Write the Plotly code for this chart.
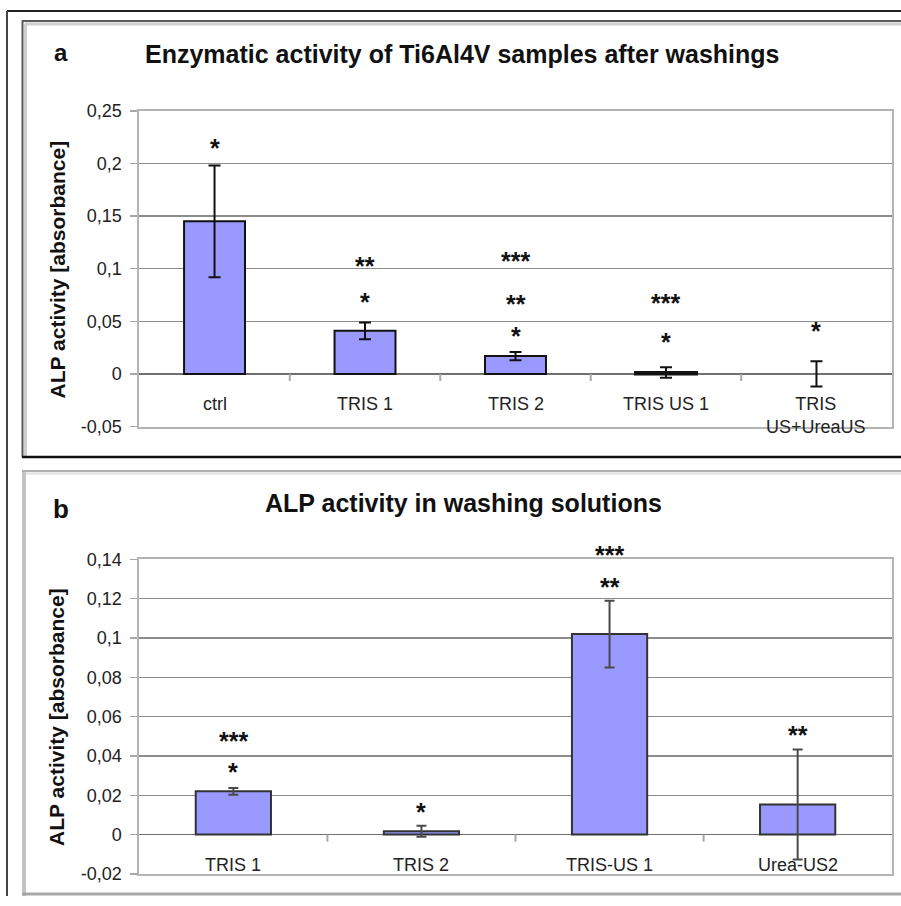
import plotly.graph_objects as go

W, H = 901, 906

# ---------------- data ----------------
cats_a = ["ctrl", "TRIS 1", "TRIS 2", "TRIS US 1", "TRIS<br>US+UreaUS"]
vals_a = [0.145, 0.041, 0.017, 0.0015, 0.0]
err_a = [0.053, 0.008, 0.004, 0.005, 0.012]
star_cat_a = ["ctrl", "TRIS 1", "TRIS 1", "TRIS 2", "TRIS 2", "TRIS 2", "TRIS US 1", "TRIS US 1", "TRIS<br>US+UreaUS"]
star_txt_a = ["*", "**", "*", "***", "**", "*", "***", "*", "*"]
star_y_a = [0.22, 0.108, 0.074, 0.113, 0.072, 0.042, 0.073, 0.0365, 0.047]
ytick_vals_a = [-0.05, 0, 0.05, 0.1, 0.15, 0.2, 0.25]
ytick_text_a = ["-0,05", "0", "0,05", "0,1", "0,15", "0,2", "0,25"]

cats_b = ["TRIS 1", "TRIS 2", "TRIS-US 1", "Urea-US2"]
vals_b = [0.022, 0.0017, 0.102, 0.0153]
err_b = [0.0017, 0.0028, 0.017, 0.028]
star_cat_b = ["TRIS 1", "TRIS 1", "TRIS 2", "TRIS-US 1", "TRIS-US 1", "Urea-US2"]
star_txt_b = ["***", "*", "*", "***", "**", "**"]
star_y_b = [0.0505, 0.0348, 0.0148, 0.145, 0.129, 0.0536]
ytick_vals_b = [-0.02, 0, 0.02, 0.04, 0.06, 0.08, 0.1, 0.12, 0.14]
ytick_text_b = ["-0,02", "0", "0,02", "0,04", "0,06", "0,08", "0,1", "0,12", "0,14"]

title_a = "Enzymatic activity of Ti6Al4V samples after washings"
title_b = "ALP activity in washing solutions"
ytitle = "ALP activity [absorbance]"

FONT = "Liberation Sans, Arial, sans-serif"
BAR = "#9999ff"

# pixel geometry of the two plot areas (as seen in the reference picture)
PLOT_L, PLOT_R = 139.3, 891.7
A_TOP, A_BOT = 112, 426.7
B_TOP, B_BOT = 559, 872.5
RANGE_A = [-0.05, 0.25]
RANGE_B = [-0.02, 0.14]

# the photographed page shows the figure vertically as 11.5 + 0.9746*y
Y_OFF, Y_SC = 11.5, 0.9746


def fy(y):
    return (y - Y_OFF) / Y_SC


def px(x):
    return x / W


def py(y):
    return min(1.0, max(0.0, 1 - fy(y) / H))


fig = go.Figure()

fig.add_trace(go.Bar(
    x=cats_a, y=vals_a, xaxis="x", yaxis="y", width=0.405,
    marker=dict(color=BAR, line=dict(color="#111111", width=[2, 2, 2, 3, 0])),
    error_y=dict(type="data", array=err_a, visible=True, color="#111111", thickness=2, width=6),
    showlegend=False,
))
fig.add_trace(go.Bar(
    x=cats_b, y=vals_b, xaxis="x2", yaxis="y2", width=0.4,
    marker=dict(color=BAR, line=dict(color="#333333", width=2)),
    error_y=dict(type="data", array=err_b, visible=True, color="#4a4a4a", thickness=2, width=5),
    showlegend=False,
))

common_x = dict(type="category", showticklabels=False, ticks="", showgrid=False,
                showline=True, mirror=True, linecolor="#b4b4b4", linewidth=2, zeroline=False,
                fixedrange=True)
common_y = dict(tickmode="array", ticks="outside", ticklen=7, tickcolor="#a8a8a8", tickwidth=1.5,
                showgrid=True, gridcolor="#8c8c8c", gridwidth=1.5,
                zeroline=True, zerolinecolor="#707070", zerolinewidth=1.5,
                showline=True, mirror=True, linecolor="#b4b4b4", linewidth=2, fixedrange=True,
                tickfont=dict(family=FONT, size=18, color="#222222"), ticklabelstandoff=5)

fig.update_layout(
    width=W, height=H, margin=dict(l=0, r=0, t=0, b=0),
    paper_bgcolor="white", plot_bgcolor="white",
    font=dict(family=FONT, color="#111111"),
    xaxis=dict(domain=[px(PLOT_L), px(PLOT_R)], anchor="y", range=[-0.5, len(cats_a) - 0.5], **common_x),
    yaxis=dict(domain=[py(A_BOT), py(A_TOP)], anchor="x", range=RANGE_A,
               tickvals=ytick_vals_a, ticktext=ytick_text_a, **common_y),
    xaxis2=dict(domain=[px(PLOT_L), px(PLOT_R)], anchor="y2", range=[-0.5, len(cats_b) - 0.5], **common_x),
    yaxis2=dict(domain=[py(B_BOT), py(B_TOP)], anchor="x2", range=RANGE_B,
                tickvals=ytick_vals_b, ticktext=ytick_text_b, **common_y),
)

ann = []
# category labels under the zero line
for c in cats_a:
    ann.append(dict(x=c, y=0, xref="x", yref="y", text=c, showarrow=False, yanchor="top",
                    xanchor="center", yshift=-18, font=dict(size=18, color="#222222")))
for c in cats_b:
    ann.append(dict(x=c, y=0, xref="x2", yref="y2", text=c, showarrow=False, yanchor="top",
                    xanchor="center", yshift=-18, font=dict(size=18, color="#222222")))


def star(c, t, yv, xref, yref, rng, top_px, bot_px):
    # annotations beyond the axis range are hidden by plotly: clamp and shift in pixels
    ppu = (fy(bot_px) - fy(top_px)) / (rng[1] - rng[0])
    extra = 0
    if yv > rng[1]:
        extra = (yv - rng[1]) * ppu
        yv = rng[1]
    ann.append(dict(x=c, y=yv, xref=xref, yref=yref, text="<b>" + t + "</b>", showarrow=False,
                    yanchor="middle", xanchor="center", yshift=-6 + extra,
                    font=dict(size=25, color="#111111")))


for c, t, yv in zip(star_cat_a, star_txt_a, star_y_a):
    star(c, t, yv, "x", "y", RANGE_A, A_TOP, A_BOT)
for c, t, yv in zip(star_cat_b, star_txt_b, star_y_b):
    star(c, t, yv, "x2", "y2", RANGE_B, B_TOP, B_BOT)


def pann(x, y, text, size, angle=0):
    ann.append(dict(x=px(x), y=py(y), xref="paper", yref="paper", text=text, textangle=angle,
                    xanchor="center", yanchor="middle", showarrow=False,
                    font=dict(size=size, color="#111111")))


# titles and panel letters
pann(462.5, 55, "<b>" + title_a + "</b>", 25)
pann(463, 503, "<b>" + title_b + "</b>", 25)
pann(61, 54, "<b>a</b>", 24)
pann(61, 509, "<b>b</b>", 26)
# y-axis titles
pann(57, 270, "<b>" + ytitle + "</b>", 21, -90)
pann(57, 716, "<b>" + ytitle + "</b>", 21, -90)
fig.update_layout(annotations=ann)

shapes = []
# category-boundary tick marks on the zero line
for i in range(len(cats_a) - 1):
    shapes.append(dict(type="line", xref="x", yref="y", x0=i + 0.5, x1=i + 0.5,
                       ysizemode="pixel", yanchor=0, y0=0, y1=-7,
                       line=dict(color="#a8a8a8", width=2)))
for i in range(len(cats_b) - 1):
    shapes.append(dict(type="line", xref="x2", yref="y2", x0=i + 0.5, x1=i + 0.5,
                       ysizemode="pixel", yanchor=0, y0=0, y1=-7,
                       line=dict(color="#a8a8a8", width=2)))


def seg(x0, y0, x1, y1, color, width):
    shapes.append(dict(type="line", xref="paper", yref="paper", x0=px(x0), y0=py(y0),
                       x1=px(x1), y1=py(y1), line=dict(color=color, width=width)))


# outer frame
seg(7, 12.5, 910, 12.5, "#222222", 2)
seg(7, 12.5, 7, 910, "#444444", 2)
# panel a frame
seg(25.5, 25, 25.5, 456, "#d0d0d0", 3)
seg(25, 25.5, 910, 25.5, "#d0d0d0", 3)
seg(22.5, 22, 22.5, 457, "#5a5a5a", 2)
seg(22, 22.5, 910, 22.5, "#5a5a5a", 2)
seg(22, 457, 910, 457, "#111111", 2.5)
# panel b frame
seg(24, 471, 24, 910, "#c4c4c4", 4)
seg(22, 471, 910, 471, "#b0b0b0", 2)
seg(26, 473.5, 910, 473.5, "#e0e0e0", 2)
seg(22, 892.5, 910, 892.5, "#a8a8a8", 3)

fig.update_layout(shapes=shapes)

fig.write_html(
    "out.html",
    config={"displayModeBar": False, "staticPlot": True},
    post_script="document.body.style.margin='0';document.body.style.overflow='hidden';",
)
